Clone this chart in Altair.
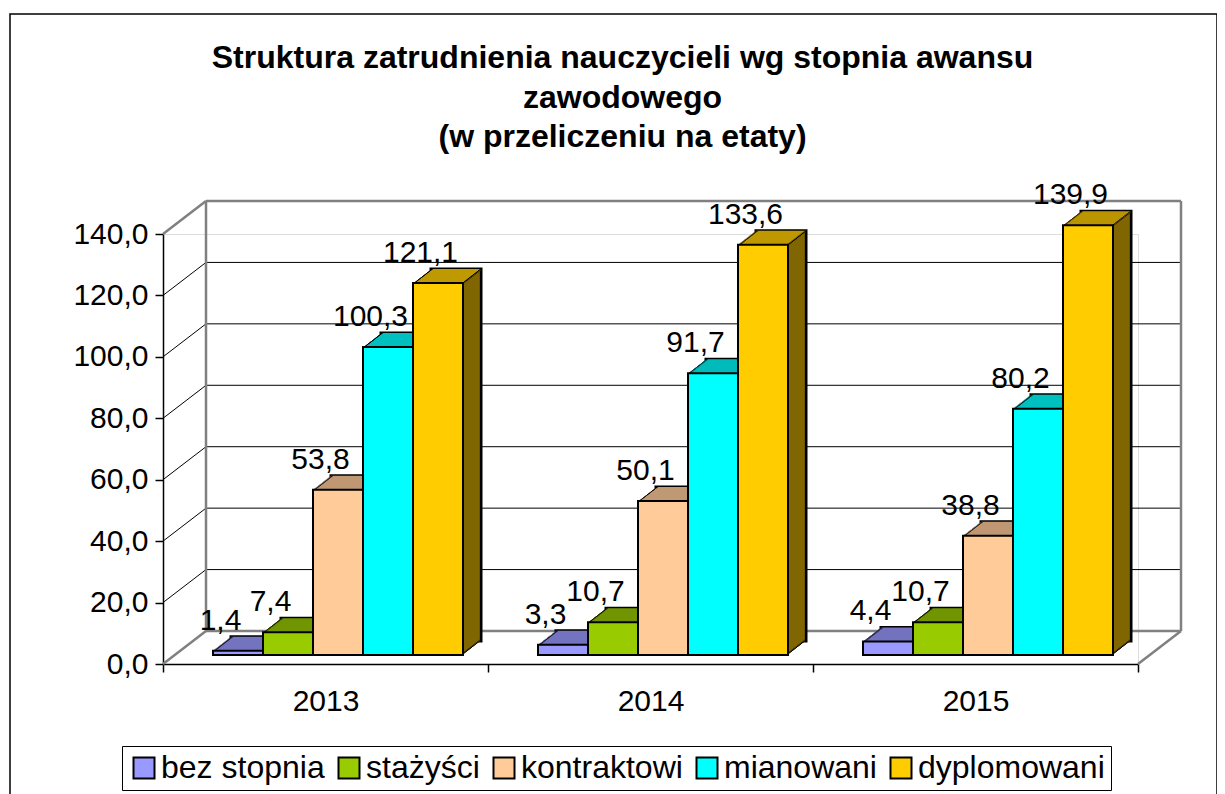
import altair as alt
import pandas as pd

# ---------------- data ----------------
years = ["2013", "2014", "2015"]
series = ["bez stopnia", "stażyści", "kontraktowi", "mianowani", "dyplomowani"]
values_2013 = [1.4, 7.4, 53.8, 100.3, 121.1]
values_2014 = [3.3, 10.7, 50.1, 91.7, 133.6]
values_2015 = [4.4, 10.7, 38.8, 80.2, 139.9]
y_ticks = [0, 20, 40, 60, 80, 100, 120, 140]
title_lines = [
    "Struktura zatrudnienia nauczycieli wg stopnia awansu",
    "zawodowego",
    "(w przeliczeniu na etaty)",
]

# ---------------- styles ----------------
front_colors = ["#9999FF", "#99CC00", "#FFCC99", "#00FFFF", "#FFCC00"]
top_colors = ["#7373BF", "#739900", "#BF9973", "#00BFBF", "#BF9900"]
side_colors = ["#4D4D80", "#4D6600", "#806650", "#008080", "#806600"]
edge_colors = ["#000000"] * 5
FONT = "Liberation Sans"
W, H = 975, 430
PAD_OUT = 0.75
BAND = W / len(years) / (len(series) + 2 * PAD_OUT)   # width of one bar
FX, FY = 12.5, -9     # shift of bar front faces (bars stand inside the floor)
DX, DY = 18, -14      # depth of the bars
WX, WY = 43, -33      # depth of the walls
N = 14                # extrusion steps
EDGE = 1.6            # width of dark edges on the extruded faces

rows = []
for yr, vals in zip(years, [values_2013, values_2014, values_2015]):
    for s, v in zip(series, vals):
        rows.append({"year": yr, "series": s, "value": v})
df = pd.DataFrame(rows)
grid_df = pd.DataFrame({"value": y_ticks})

y_scale = alt.Scale(domain=[y_ticks[0], y_ticks[-1]], nice=False, zero=True)
y_axis = alt.Axis(
    title=None, values=y_ticks, grid=False,
    labelExpr="replace(format(datum.value, '.1f'), '.', ',')",
    labelFont=FONT, labelFontSize=30, labelColor="black", labelPadding=7,
    tickSize=8, tickColor="black", tickWidth=1.5,
    domainColor="black", domainWidth=1.5,
)
y_enc = alt.Y("value:Q", scale=y_scale, axis=y_axis)
x_axis = alt.Axis(
    title=None, labelAngle=0, grid=False, tickBand="extent",
    labelFont=FONT, labelFontSize=30, labelColor="black", labelPadding=14,
    tickSize=8, tickColor="black", tickWidth=1.5,
    domainColor="black", domainWidth=1.5,
)


def x_enc(shift=0.0, axis=None):
    return alt.X(
        "year:N", sort=years,
        scale=alt.Scale(type="band", domain=years, range=[shift, W + shift],
                        paddingInner=0, paddingOuter=0),
        axis=axis,
    )


xo_enc = alt.XOffset(
    "series:N", sort=series,
    scale=alt.Scale(type="band", domain=series, paddingInner=0, paddingOuter=PAD_OUT),
)


def color_enc(rng, legend=None):
    return alt.Color("series:N", sort=series,
                     scale=alt.Scale(domain=series, range=rng), legend=legend)


def bars(shift=0.0, axis=None):
    return alt.Chart(df).encode(x=x_enc(shift, axis), xOffset=xo_enc, y=y_enc)


grid = alt.Chart(grid_df)
layers = []

# outer frame
layers.append(
    alt.Chart(pd.DataFrame({"a": [0]})).mark_rect(
        fillOpacity=0, stroke="black", strokeWidth=1.5
    ).encode(x=alt.value(-153), x2=alt.value(1054), y=alt.value(-220), y2=alt.value(580))
)

# back wall grid lines
inner = grid.transform_filter(
    (alt.datum.value > y_ticks[0]) & (alt.datum.value < y_ticks[-1]))
edge = grid.transform_filter(
    (alt.datum.value == y_ticks[0]) | (alt.datum.value == y_ticks[-1]))
layers.append(inner.mark_rule(color="black", strokeWidth=1, yOffset=WY, y2Offset=WY).encode(
    y=y_enc, y2=alt.Y2("value"), x=alt.value(WX), x2=alt.value(W + WX)))
layers.append(inner.mark_rule(color="black", strokeWidth=1, y2Offset=WY).encode(
    y=y_enc, y2=alt.Y2("value"), x=alt.value(0), x2=alt.value(WX)))
layers.append(edge.mark_rule(color="#808080", strokeWidth=2.5, yOffset=WY, y2Offset=WY).encode(
    y=y_enc, y2=alt.Y2("value"), x=alt.value(WX), x2=alt.value(W + WX)))
layers.append(edge.mark_rule(color="#808080", strokeWidth=2.5, y2Offset=WY).encode(
    y=y_enc, y2=alt.Y2("value"), x=alt.value(0), x2=alt.value(WX)))
# right floor diagonal
layers.append(grid.transform_filter(alt.datum.value == y_ticks[0]).mark_rule(
    color="#808080", strokeWidth=2.5, y2Offset=WY).encode(
    y=y_enc, y2=alt.Y2("value"), x=alt.value(W), x2=alt.value(W + WX)))
# wall verticals
span = alt.Chart(pd.DataFrame({"value": [y_ticks[0]], "top": [y_ticks[-1]]}))
for xv in (WX, W + WX):
    layers.append(span.mark_rule(color="#808080", strokeWidth=2.5, yOffset=WY, y2Offset=WY).encode(
        y=y_enc, y2=alt.Y2("top"), x=alt.value(xv)))

base_y = alt.Y(datum=0, scale=y_scale, axis=y_axis)

# side faces, far to near (dark edge along the bottom)
for k in range(N, 0, -1):
    ox = FX + DX * k / N
    oy = FY + DY * k / N
    extra = {"stroke": "black", "strokeWidth": 3} if k == N else {}
    layers.append(bars(ox).mark_bar(yOffset=oy, y2Offset=oy, **extra).encode(
        color=color_enc(side_colors)))
    layers.append(bars(ox).mark_bar(yOffset=oy - EDGE, y2Offset=oy).encode(
        y=base_y, y2=alt.Y2(datum=0), color=color_enc(edge_colors)))
# top faces, far to near (dark edges at both ends)
for k in range(N, 0, -1):
    ox = FX + DX * k / N
    oy = FY + DY * k / N
    oy2 = FY + DY * (k - 1) / N + 0.5
    layers.append(bars(ox).mark_bar(yOffset=oy, y2Offset=oy2).encode(
        y2=alt.Y2("value"), color=color_enc(top_colors)))
    for sgn in (-1, 1):
        layers.append(bars(ox + sgn * (BAND / 2 - EDGE / 2)).mark_bar(
            yOffset=oy, y2Offset=oy2, width=EDGE,
        ).encode(y2=alt.Y2("value"), color=color_enc(edge_colors)))

# front faces (carry the legend)
layers.append(bars(FX).mark_bar(
    stroke="black", strokeWidth=2, yOffset=FY, y2Offset=FY,
).encode(color=color_enc(front_colors, alt.Legend(
    title=None, orient="none", legendX=-41, legendY=512, direction="horizontal",
    symbolType="square", symbolSize=441, symbolStrokeColor="black",
    symbolStrokeWidth=2, symbolOpacity=1, labelLimit=0,
    labelFont=FONT, labelFontSize=32, labelColor="black", labelOffset=1,
    columnPadding=8, padding=6, strokeColor="black", fillColor="white",
))))
# invisible copy carrying the category axis
layers.append(bars(0, x_axis).mark_bar(opacity=0).encode(
    color=color_enc(front_colors)))

# value labels
layers.append(bars(0).mark_text(
    font=FONT, fontSize=30, color="black", baseline="alphabetic", align="center",
    dx=-5, dy=FY - 21,
).encode(text="label:N").transform_calculate(
    label="replace(format(datum.value, '.1f'), '.', ',')"))

chart = alt.layer(*layers).resolve_scale(
    color="independent", x="independent", xOffset="independent"
).properties(
    width=W, height=H,
    autosize=alt.AutoSizeParams(type="none"),
    padding={"left": 155, "top": 226, "right": 79, "bottom": 140},
    title=alt.TitleParams(
        text=title_lines, font=FONT, fontSize=32, fontWeight="bold",
        color="black", anchor="middle", dx=-28, dy=145, lineHeight=39.5,
    ),
).configure_view(stroke=None).configure(background="white")

chart.save("out.html", embed_options={"renderer": "svg", "actions": False})
